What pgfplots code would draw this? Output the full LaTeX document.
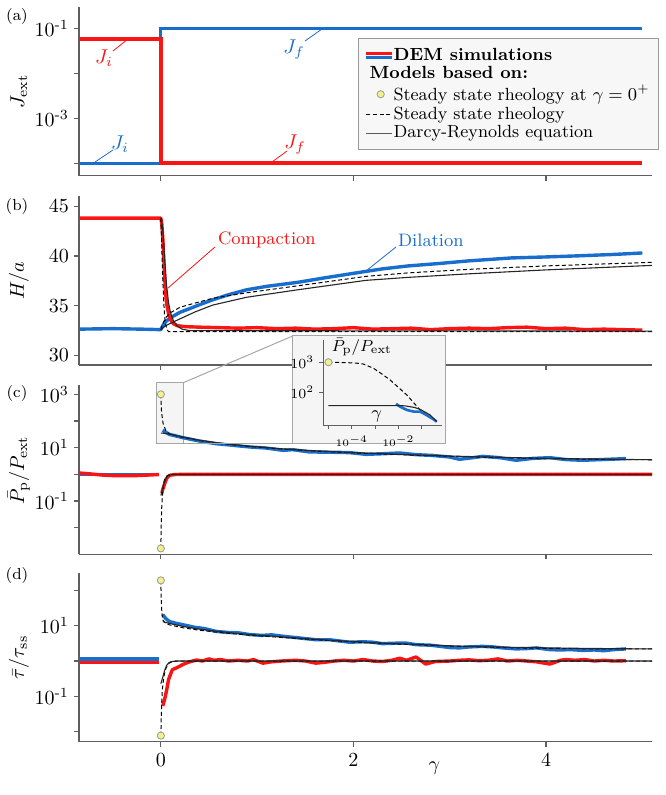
\documentclass[border=0pt]{standalone}
\usepackage{amsmath}
\usepackage{pgfplots}
\pgfplotsset{compat=1.18}
\definecolor{demred}{RGB}{250,20,20}
\definecolor{demblue}{RGB}{25,110,205}
\definecolor{dotyellow}{RGB}{242,240,140}
\definecolor{axgray}{RGB}{95,95,95}
\newcommand{\hm}{\text{-}}
\pgfplotsset{
 panel/.style={
  scale only axis, width=286.5pt, height=84.4pt, anchor=south west,
  xmin=-0.85, xmax=5.1,
  axis x line*=bottom, axis y line*=left,
  axis line style={axgray, line width=0.6pt},
  tick style={axgray, line width=0.6pt},
  tick align=outside, major tick length=2.5pt,
  xtick={0,2,4}, xticklabels={},
  ticklabel style={font=\normalsize},
  yticklabel style={xshift=1pt},
  ylabel style={at={(axis description cs:-0.105,0.5)}, anchor=center, font=\normalsize},
  clip=false, xminorticks=false, yminorticks=false,
 },
 dem/.style={line width=1.7pt, line join=round},
 ssr/.style={black, line width=0.5pt, dash pattern=on 2pt off 1.3pt},
 dr/.style={black!85, line width=0.55pt},
 ydot/.style={only marks, mark=*, mark size=1.8pt, mark options={fill=dotyellow, draw=gray!80, line width=0.4pt}},
}
\begin{document}
\begin{tikzpicture}
\useasboundingbox (0pt,0pt) rectangle (332.5pt,-397.5pt);

% ---------------- (a)
\begin{axis}[panel, at={(39.5pt,-87.85pt)},
  ymode=log, ymin=5.25e-5, ymax=0.302,
  ytick={1e-4,1e-3,1e-2,1e-1}, yticklabels={,$10^{\hm3}$,,$10^{\hm1}$},
  ylabel={$J_{\mathrm{ext}}$},
  legend cell align=left,
  legend style={at={(1.012,0.813)}, anchor=north east, fill=black!3, draw=black!40,
    font=\fontsize{8.8pt}{10pt}\selectfont, inner sep=2.5pt, row sep=-2.3pt,
    /tikz/every even column/.append style={column sep=0pt}},
]
\addplot[demblue, line width=1.5pt, forget plot] coordinates {(-0.85,1e-4) (0,1e-4) (0,0.1) (5.0,0.1)};
\addplot[demred, line width=2pt, forget plot] coordinates {(-0.85,0.058) (0,0.058) (0,1e-4) (5.0,1e-4)};
\addlegendimage{legend image code/.code={
  \draw[demred,line width=1.5pt] (0.05cm,1pt)--(0.5cm,1pt);
  \draw[demblue,line width=1.5pt] (0.05cm,-1pt)--(0.5cm,-1pt);}}
\addlegendentry{\hspace{-2pt}\textbf{DEM simulations}}
\addlegendimage{empty legend}
\addlegendentry{\hspace{-14pt}\textbf{Models based on:}}
\addlegendimage{ydot}
\addlegendentry{\hspace{-2pt}Steady state rheology at $\gamma=0^{+}$}
\addlegendimage{legend image code/.code={\draw[black, line width=0.5pt, dash pattern=on 2pt off 1.3pt] (0.05cm,0cm)--(0.5cm,0cm);}}
\addlegendentry{\hspace{-2pt}Steady state rheology}
\addlegendimage{legend image code/.code={\draw[black!65, line width=0.7pt] (0.05cm,0cm)--(0.5cm,0cm);}}
\addlegendentry{\hspace{-2pt}Darcy-Reynolds equation}
\end{axis}

\begin{scope}[x=0.5pt,y=-0.5pt]
\node[demred] at (104,58) {$J_i$}; \draw[demred, line width=0.4pt] (113,51)--(128,39);
\node[demblue] at (294,50) {$J_f$}; \draw[demblue, line width=0.4pt] (305,41)--(322,29);
\node[demblue] at (120,144) {$J_i$}; \draw[demblue, line width=0.4pt] (95,162)--(113,150);
\node[demred] at (295,145) {$J_f$}; \draw[demred, line width=0.4pt] (272,162)--(287,151);
\end{scope}

% ---------------- (b)
\begin{axis}[panel, at={(39.5pt,-182.5pt)},
  ymin=29.05, ymax=46.0, ytick={30,35,40,45},
  ylabel={$H/a$},
]
\addplot[demblue, dem] coordinates {(-0.85,32.65) (-0.5,32.7) (-0.2,32.65) (0,32.6) (0.02,33.0) (0.05,33.4) (0.1,33.8) (0.2,34.35) (0.31,34.75) (0.4,35.1) (0.54,35.6) (0.7,36.1) (0.89,36.6) (1.1,36.95) (1.42,37.35) (1.7,37.8) (2.13,38.45) (2.3,38.7) (2.57,39.0) (2.9,39.25) (3.19,39.5) (3.64,39.8) (4.0,39.9) (4.3,40.0) (4.7,40.15) (5.0,40.3)};
\addplot[demred, dem] coordinates {(-0.85,43.8) (0,43.8) (0.01,43.2) (0.02,41.8) (0.03,39.8) (0.04,37.8) (0.05,36.2) (0.06,35.2) (0.08,34.2) (0.1,33.6) (0.13,33.2) (0.17,33.0) (0.25,32.9) (0.4,32.85) (0.6,32.8) (0.8,32.75) (1.0,32.8) (1.2,32.7) (1.4,32.75) (1.6,32.65) (1.8,32.7) (2.0,32.8) (2.2,32.65) (2.4,32.7) (2.6,32.75) (2.8,32.6) (3.0,32.7) (3.2,32.75) (3.4,32.7) (3.6,32.8) (3.8,32.85) (4.0,32.7) (4.2,32.75) (4.4,32.6) (4.6,32.65) (4.8,32.6) (5.0,32.55)};
\addplot[ssr] coordinates {(0,32.6) (0.02,33.2) (0.05,33.8) (0.1,34.3) (0.2,34.85) (0.31,35.15) (0.54,35.75) (0.89,36.3) (1.42,37.0) (2.13,37.95) (2.57,38.3) (3.19,38.65) (4.0,39.0) (5.1,39.36)};
\addplot[dr] coordinates {(0,32.6) (0.05,33.0) (0.18,33.6) (0.36,34.4) (0.54,35.07) (0.89,35.85) (1.42,36.6) (2.13,37.55) (2.57,37.85) (3.19,38.2) (4.0,38.6) (5.1,39.05)};
\addplot[ssr] coordinates {(0,43.8) (0.005,42.5) (0.01,40.8) (0.02,37.6) (0.03,35.3) (0.04,33.9) (0.05,33.1) (0.065,32.6) (0.08,32.4) (5.1,32.4)};
\addplot[dr] coordinates {(0,43.8) (0.01,43.5) (0.02,42.6) (0.03,41.2) (0.04,39.6) (0.05,38.2) (0.06,37.0) (0.08,35.3) (0.1,34.3) (0.13,33.5) (0.17,32.95) (0.22,32.65) (0.3,32.5) (5.1,32.45)};
\end{axis}

\begin{scope}[x=0.5pt,y=-0.5pt]
\node[demred, font=\small, anchor=west] at (211,240) {Compaction};
\draw[demred, line width=0.4pt] (215,247)--(168,288);
\node[demblue, font=\small, anchor=west] at (391,240) {Dilation};
\draw[demblue, line width=0.4pt] (396,247)--(366,271);
% zoom rectangle in (c)
\draw[gray!70, fill=black!4, line width=0.5pt] (156.7,382.7) rectangle (183.3,443.3);
\end{scope}

% ---------------- (c)
\begin{axis}[panel, at={(39.5pt,-277.15pt)},
  ymode=log, ymin=1e-3, ymax=2138,
  ytick={1e-2,1e-1,1,10,100,1000}, yticklabels={,$10^{\hm1}$,,$10^{1}$,,$10^{3}$},
  ylabel={$\bar{P}_{\mathrm{p}}/P_{\mathrm{ext}}$},
]
\addplot[demblue, dem] coordinates {(-0.85,1.0) (-0.02,1.0)};
\addplot[demred, dem] coordinates {(-0.85,1.12) (-0.75,1.05) (-0.6,0.93) (-0.45,0.88) (-0.3,0.88) (-0.15,0.93) (-0.02,0.98)};
\addplot[demred, dem] coordinates {(0.01,0.2) (0.02,0.27) (0.04,0.45) (0.06,0.7) (0.08,0.85) (0.1,0.93) (0.15,0.98) (0.25,1.0) (5.1,1.0)};
\addplot[demblue, dem] coordinates {(0.019,44.5) (0.088,31.5) (0.227,23.7) (0.40,17.7) (0.57,14.1) (0.75,12.2) (0.92,10.6) (1.09,9.7) (1.27,7.9) (1.37,8.4) (1.54,6.9) (1.79,6.7) (1.96,6.5) (2.13,5.6) (2.30,5.9) (2.48,6.3) (2.65,5.45) (2.82,5.1) (3.0,4.45) (3.1,3.65) (3.24,4.2) (3.34,4.7) (3.52,4.2) (3.69,3.35) (3.86,3.95) (4.04,4.2) (4.21,3.55) (4.38,3.35) (4.56,3.55) (4.73,3.75) (4.83,3.9)};
\addplot[ssr] coordinates {(0,1000) (0.0005,800) (0.001,630) (0.003,380) (0.006,250) (0.01,178) (0.023,81) (0.05,45) (0.088,32) (0.227,24.3) (0.4,18.5) (0.57,15.1) (0.75,12.7) (0.92,11.0) (1.27,8.8) (1.61,7.4) (1.96,6.45) (2.3,5.75) (2.65,5.2) (3.0,4.75) (3.34,4.4) (3.69,4.1) (4.04,3.87) (4.38,3.72) (4.83,3.55) (5.1,3.5)};
\addplot[dr] coordinates {(0,35) (0.019,35) (0.088,32.5) (0.227,25) (0.4,19) (0.57,15.5) (0.75,13) (0.92,11.3) (1.27,9.0) (1.61,7.6) (1.96,6.6) (2.3,5.9) (2.65,5.3) (3.0,4.85) (3.34,4.5) (3.69,4.2) (4.04,3.95) (4.38,3.8) (4.83,3.6) (5.1,3.52)};
\addplot[ssr] coordinates {(0,0.00166) (0.002,0.005) (0.005,0.02) (0.01,0.07) (0.02,0.25) (0.03,0.5) (0.05,0.8) (0.08,0.95) (0.12,1.0) (5.1,1.0)};
\addplot[dr] coordinates {(0,0.16) (0.01,0.22) (0.03,0.42) (0.05,0.66) (0.07,0.85) (0.1,0.95) (0.15,0.99) (0.25,1.0) (5.1,1.0)};
\addplot[ydot] coordinates {(0,1000) (0,0.00166)};
\end{axis}

% ---------------- (d)
\begin{axis}[panel, at={(39.5pt,-370.85pt)},
  ymode=log, ymin=5.25e-3, ymax=309,
  ytick={1e-2,1e-1,1,10,100}, yticklabels={,$10^{\hm1}$,,$10^{1}$,},
  xticklabels={$0$,$2$,$4$},
  ylabel={$\bar{\tau}/\tau_{\mathrm{ss}}$},
  xlabel={$\gamma$}, xlabel style={at={(axis description cs:0.62,-0.156)}, anchor=center, font=\normalsize},
]
\addplot[demblue, dem] coordinates {(-0.85,1.14) (-0.02,1.14)};
\addplot[demred, dem] coordinates {(-0.85,0.91) (-0.02,0.91)};
\addplot[demblue, dem] coordinates {(0.019,20.5) (0.05,16) (0.09,13) (0.15,11.8) (0.23,10.6) (0.35,9) (0.45,8.3) (0.57,6.9) (0.7,6.4) (0.8,6.3) (0.92,5.6) (1.05,5.3) (1.15,5.5) (1.27,5.0) (1.4,4.6) (1.5,4.3) (1.61,4.0) (1.75,4.0) (1.85,3.7) (1.96,3.4) (2.1,3.5) (2.2,3.4) (2.3,3.1) (2.45,3.2) (2.55,3.2) (2.65,2.9) (2.8,2.8) (2.9,2.6) (3.0,2.4) (3.1,2.35) (3.2,2.5) (3.34,2.6) (3.45,2.5) (3.55,2.35) (3.69,2.2) (3.8,2.25) (3.9,2.35) (4.04,2.1) (4.15,2.05) (4.25,2.1) (4.38,2.0) (4.5,2.05) (4.6,1.95) (4.7,2.1) (4.83,2.2)};
\addplot[demred, dem] coordinates {(0.02,0.054) (0.04,0.085) (0.06,0.15) (0.08,0.3) (0.1,0.42) (0.12,0.57) (0.15,0.62) (0.19,0.7) (0.23,0.8) (0.26,0.87) (0.3,0.95) (0.37,1.07) (0.43,1.0) (0.5,1.15) (0.55,1.05) (0.62,1.1) (0.7,1.0) (0.8,1.05) (0.9,1.0) (0.96,1.1) (1.06,0.87) (1.15,0.95) (1.25,1.0) (1.4,1.05) (1.5,1.0) (1.61,0.87) (1.7,0.92) (1.8,1.0) (1.9,1.05) (2.0,1.0) (2.1,1.1) (2.2,1.0) (2.3,0.97) (2.4,1.05) (2.48,1.2) (2.55,1.05) (2.65,1.3) (2.75,0.82) (2.85,0.97) (3.0,1.0) (3.1,1.05) (3.2,1.08) (3.3,1.02) (3.4,1.05) (3.5,1.15) (3.6,1.0) (3.7,1.05) (3.8,1.0) (3.9,0.95) (4.04,0.82) (4.15,1.05) (4.2,1.1) (4.3,1.05) (4.4,1.1) (4.5,1.0) (4.6,1.05) (4.7,1.0) (4.83,1.02)};
\addplot[ssr] coordinates {(0,190) (0.001,120) (0.003,70) (0.006,40) (0.01,25) (0.02,14.5) (0.05,11.5) (0.09,10.5) (0.23,8.7) (0.4,7.4) (0.57,6.6) (0.75,5.9) (0.92,5.4) (1.27,4.6) (1.61,4.0) (1.96,3.5) (2.3,3.15) (2.65,2.9) (3.0,2.65) (3.34,2.5) (3.69,2.35) (4.04,2.28) (4.38,2.22) (4.83,2.2) (5.1,2.2)};
\addplot[dr] coordinates {(0.02,13) (0.09,11.5) (0.23,9.5) (0.4,8.0) (0.57,7.0) (0.75,6.2) (0.92,5.6) (1.27,4.8) (1.61,4.1) (1.96,3.6) (2.3,3.2) (2.65,2.95) (3.0,2.7) (3.34,2.55) (3.69,2.42) (4.04,2.35) (4.38,2.28) (4.83,2.22) (5.1,2.2)};
\addplot[ssr] coordinates {(0,0.0078) (0.003,0.02) (0.008,0.06) (0.015,0.15) (0.03,0.35) (0.05,0.6) (0.08,0.85) (0.12,0.97) (0.2,1.0) (5.1,1.0)};
\addplot[dr] coordinates {(0,0.23) (0.02,0.35) (0.04,0.55) (0.06,0.75) (0.08,0.88) (0.1,0.95) (0.15,1.0) (5.1,1.0)};
\addplot[ydot] coordinates {(0,190) (0,0.0078)};
\end{axis}

% ---------------- inset
\begin{scope}[x=0.5pt,y=-0.5pt]
\draw[gray!70, line width=0.5pt] (183.3,382.7)--(292.7,336);
\draw[gray!70, line width=0.5pt] (183.3,443.3)--(292.7,443.3);
\draw[gray!70, fill=black!4, line width=0.5pt] (292.7,336) rectangle (445.7,443.3);
\end{scope}
\begin{axis}[at={(161.65pt,-212.5pt)}, anchor=south west, scale only axis,
  width=59.2pt, height=42.5pt,
  xmode=log, ymode=log, xmin=6e-6, xmax=0.72, ymin=8.1, ymax=5500,
  axis x line*=bottom, axis y line*=left,
  axis line style={axgray, line width=0.5pt},
  tick style={axgray, line width=0.5pt},
  tick align=outside, major tick length=2pt,
  xtick={1e-5,1e-4,1e-3,1e-2,1e-1}, xticklabels={,$10^{-4}$,,$10^{-2}$,},
  ytick={100,1000}, yticklabels={$10^{2}$,$10^{3}$},
  xticklabel style={font=\tiny}, yticklabel style={font=\scriptsize, xshift=1pt},
  xminorticks=false, yminorticks=false, clip=false,
]
\addplot[ssr] coordinates {(1e-5,1000) (3.16e-5,977) (1e-4,955) (1.6e-4,933) (3.16e-4,870) (8.5e-4,630) (2e-3,400) (4.4e-3,257) (1e-2,145) (2.3e-2,81) (5e-2,41) (8.5e-2,25.7) (0.2,16) (0.44,10.5)};
\addplot[demblue, line width=1.3pt] coordinates {(0.0079,41) (0.0118,33) (0.023,25.7) (0.044,22.7) (0.085,22.7) (0.16,17.4) (0.32,12.6) (0.44,10.5)};
\addplot[dr] coordinates {(1e-5,36) (0.0118,36) (0.02,35) (0.05,31) (0.085,27) (0.23,17.5) (0.44,10.5)};
\addplot[ydot] coordinates {(1e-5,1000)};
\node[anchor=north west, font=\footnotesize, inner sep=0.5pt] at (rel axis cs:0.06,1.04) {$\bar{P}_{\mathrm{p}}/P_{\mathrm{ext}}$};
\node[font=\small] at (rel axis cs:0.45,0.1) {$\gamma$};
\end{axis}

% ---------------- panel labels
\begin{scope}[x=0.5pt,y=-0.5pt]
\node[font=\footnotesize] at (17,17) {(a)};
\node[font=\footnotesize] at (17,207) {(b)};
\node[font=\footnotesize] at (17,393) {(c)};
\node[font=\footnotesize] at (17,575) {(d)};
\end{scope}
\end{tikzpicture}
\end{document}
